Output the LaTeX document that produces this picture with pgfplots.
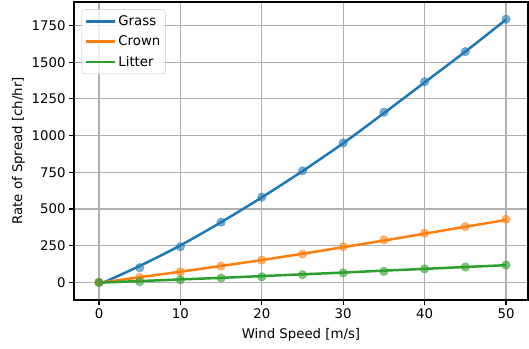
\documentclass[border=0pt]{standalone}
\usepackage{pgfplots}
\pgfplotsset{compat=1.18}
\usepackage{fontspec}
\setmainfont{DejaVu Sans}
\definecolor{tblue}{HTML}{1F77B4}
\definecolor{torange}{HTML}{FF7F0E}
\definecolor{tgreen}{HTML}{2CA02C}
\definecolor{gridc}{HTML}{B0B0B0}
\newcommand{\fs}{\fontsize{13.3bp}{16bp}\selectfont}
\begin{document}
\begin{tikzpicture}
\begin{axis}[
  scale only axis,
  width=454bp, height=298bp,
  xmin=-3.07, xmax=52.7,
  ymin=-120, ymax=1910,
  xtick={0,10,20,30,40,50},
  ytick={0,250,500,750,1000,1250,1500,1750},
  grid=major,
  major grid style={gridc, line width=1.1bp},
  axis line style={black, line width=1.1bp},
  tick align=outside,
  major tick length=5bp,
  tick style={black, line width=1.1bp},
  xtick pos=bottom, ytick pos=left,
  tick label style={font=\fs},
  label style={font=\fs},
  /pgf/number format/assume math mode=true,
  /pgf/number format/set thousands separator={},
  xlabel={Wind Speed [m/s]},
  ylabel={Rate of Spread [ch/hr]},
  xlabel style={yshift=-3bp},
  legend cell align=left,
  legend style={at={(0.017,0.975)}, anchor=north west, draw=black!20, rounded corners=3bp,
    fill=white, fill opacity=0.8, text opacity=1, font=\fs,
    row sep=5bp, inner xsep=3bp, inner ysep=4bp,
    /tikz/every even column/.append style={column sep=4bp}},
  legend image code/.code={\draw[#1] (0bp,0bp) -- (29bp,0bp);},
]
\coordinate (sw) at (rel axis cs:0,0);
\addplot[only marks, mark=*, mark size=4.3bp, color=tblue, opacity=0.6, forget plot] coordinates {
(0,0) (5,100) (10,243) (15,410) (20,581) (25,760) (30,950) (35,1159) (40,1367) (45,1572) (50,1793)};
\addplot[only marks, mark=*, mark size=4.3bp, color=torange, opacity=0.6, forget plot] coordinates {
(0,0) (5,34) (10,72) (15,111) (20,152) (25,193) (30,243) (35,289) (40,335) (45,380) (50,430)};
\addplot[only marks, mark=*, mark size=4.3bp, color=tgreen, opacity=0.6, forget plot] coordinates {
(0,0) (5,5) (10,18) (15,30) (20,38) (25,52) (30,65) (35,75) (40,92) (45,105) (50,118)};
\addplot[no marks, color=tblue, line width=2.5bp, smooth] coordinates {
(0,-15) (5,112) (10,252) (15,410) (20,579) (25,758) (30,948) (35,1153) (40,1362) (45,1572) (50,1790)};
\addlegendentry{Grass}
\addplot[no marks, color=torange, line width=2.5bp, smooth] coordinates {
(0,-3) (5,35) (10,73) (15,112) (20,152) (25,195) (30,240) (35,285) (40,332) (45,379) (50,425)};
\addlegendentry{Crown}
\addplot[no marks, color=tgreen, line width=2.5bp, smooth] coordinates {
(0,-2) (5,9) (10,20) (15,31) (20,43) (25,55) (30,67) (35,80) (40,92) (45,105) (50,117)};
\addlegendentry{Litter}
\end{axis}
\pgfresetboundingbox
\path (sw) ++(-74bp,-49bp) rectangle ++(529bp,349bp);
\end{tikzpicture}
\end{document}
